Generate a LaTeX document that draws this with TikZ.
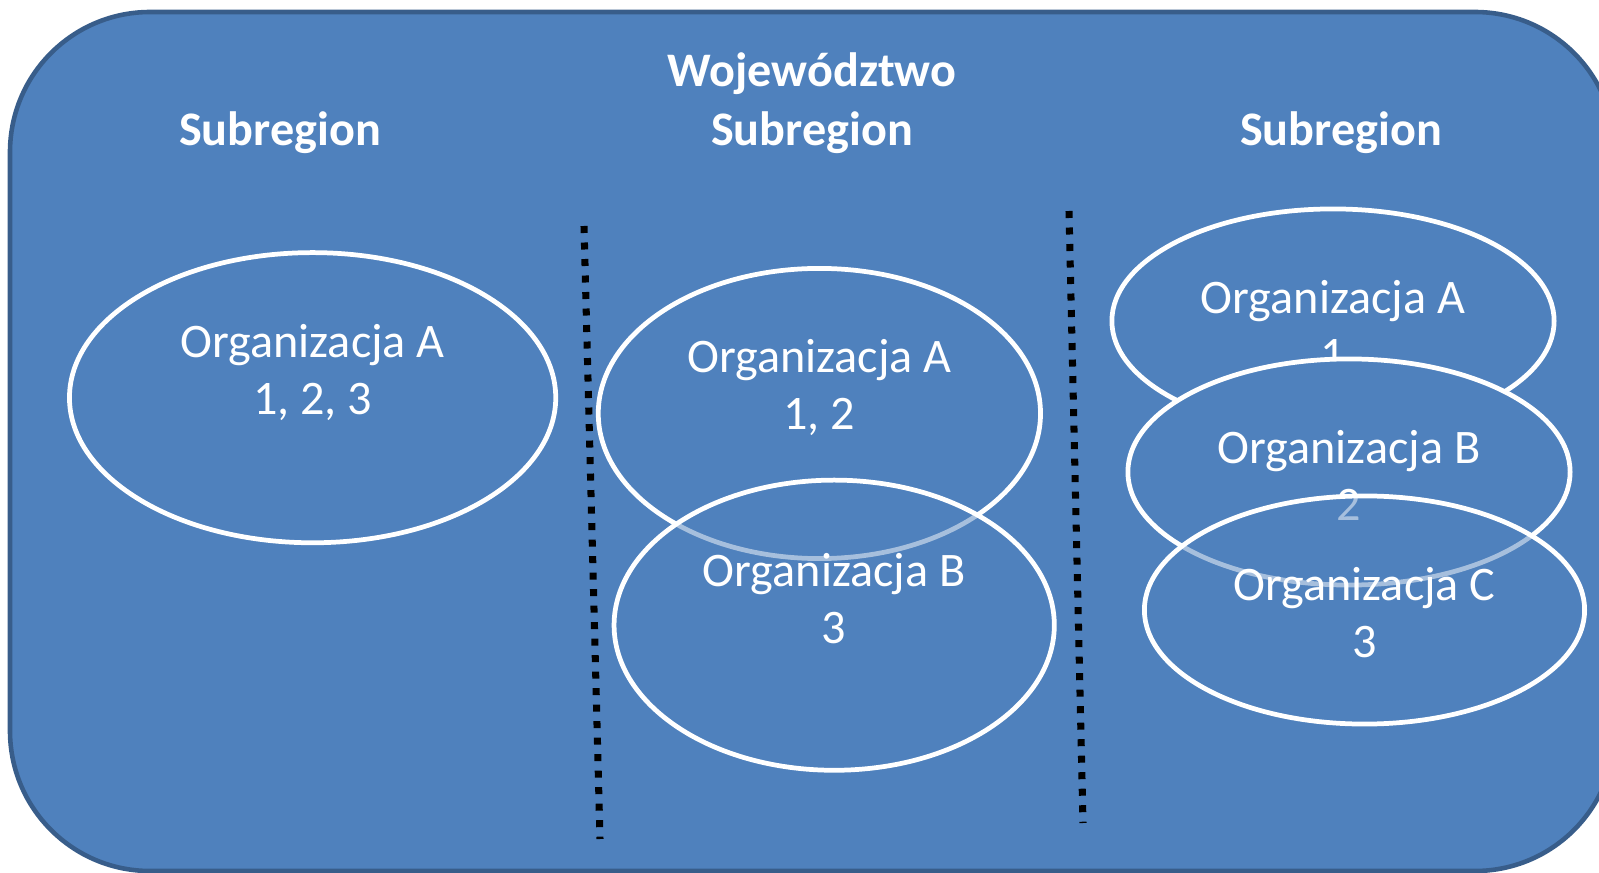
\documentclass[tikz,border=0pt]{standalone}
\usepackage{fontspec}
\setmainfont{Carlito}
\usetikzlibrary{positioning,calc,shapes.geometric}
\definecolor{regionblue}{RGB}{79,129,189}
\definecolor{regionedge}{RGB}{56,93,138}

\begin{document}
\begin{tikzpicture}[x=0.01cm,y=-0.01cm,
      region/.style = {fill=regionblue, draw=regionedge, line width=1.3pt,
         rounded corners=1.4cm},
      orgellipse/.style = {ellipse, draw=white, line width=1.35pt,
         fill=regionblue, inner sep=0pt},
      seethrough/.style = {fill opacity=0.5},
      orgtext/.style = {text=white, align=center,
         font=\fontsize{13.7}{16.2}\selectfont},
      title/.style = {text=white, align=center,
         font=\bfseries\fontsize{13.7}{16.2}\selectfont},
      divider/.style = {line width=2pt, dash pattern=on 0.07cm off 0.095cm}]

   \useasboundingbox (0,0) rectangle (1599,873);
   \clip (0,0) rectangle (1599,873);

   % wojewodztwo
   \draw[region] (10,12) rectangle (1615,871);

   \node[title] (woj)  at (812,73.5)  {Województwo};
   \node[title] (subL) at (280,132.5) {Subregion};
   \node[title] (subM) at (812,132.5) {Subregion};
   \node[title] (subR) at (1341,132.5) {Subregion};

   % borders between subregions
   \coordinate (d1a) at (584,226);
   \coordinate (d1b) at (600,839);
   \coordinate (d2a) at (1069,211);
   \coordinate (d2b) at (1083,823);
   \draw[divider] (d1a) -- (d1b);
   \draw[divider] (d2a) -- (d2b);

   % left subregion
   \node[orgellipse, minimum width=4.86cm, minimum height=2.9cm] (eL)
      at (312.6,397.7) {};
   \node[orgtext] (tL) at ($(eL)+(0,-25)$) {Organizacja A\\1, 2, 3};

   % middle subregion
   \node[orgellipse, minimum width=4.42cm, minimum height=2.9cm] (eMA)
      at (819.4,413.5) {};
   \node[orgtext] (tMA) at ($(eMA)+(0,-26)$) {Organizacja A\\1, 2};
   \node[orgellipse, seethrough, minimum width=4.4cm, minimum height=2.9cm] (eMB)
      at (834.2,625.2) {};
   \node[orgtext] (tMB) at ($(eMB)+(0,-27)$) {Organizacja B\\3};

   % right subregion
   \node[orgellipse, minimum width=4.42cm, minimum height=2.24cm] (eRA)
      at (1333,321) {};
   \node[orgtext] (tRA) at ($(eRA)+(0,4)$) {Organizacja A\\1};
   \node[orgellipse, minimum width=4.42cm, minimum height=2.26cm] (eRB)
      at (1349,472) {};
   \node[orgtext] (tRB) at ($(eRB)+(0,3)$) {Organizacja B\\2};
   \node[orgellipse, seethrough, minimum width=4.4cm, minimum height=2.28cm] (eRC)
      at (1364.5,610) {};
   \node[orgtext] (tRC) at ($(eRC)+(0,3)$) {Organizacja C\\3};
\end{tikzpicture}
\end{document}
